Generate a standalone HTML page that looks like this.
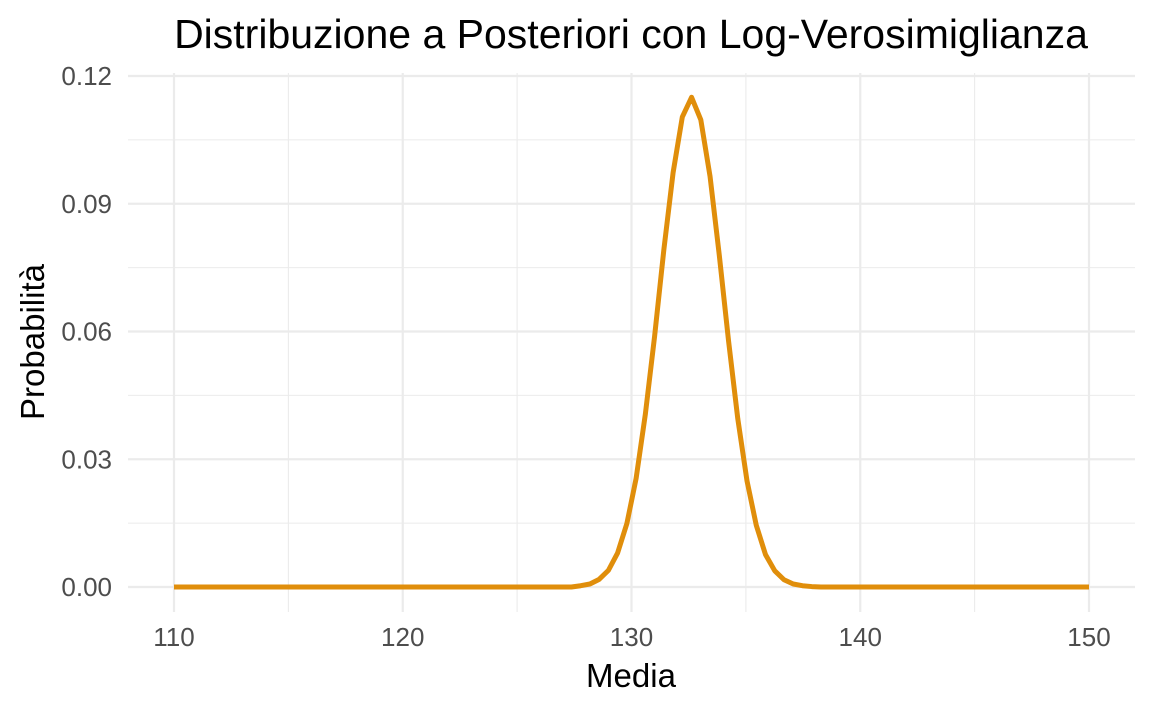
<!DOCTYPE html>
<html><head><meta charset="utf-8"><style>
body{margin:0;background:#fff;}
svg text{font-family:"Liberation Sans",Arial,sans-serif;}
</style></head><body>
<svg id="chart" width="1152" height="711" xmlns="http://www.w3.org/2000/svg">
<text x="631" y="48" font-size="41" text-anchor="middle" fill="#000">Distribuzione a Posteriori con Log-Verosimiglianza</text>
<g id="grid"></g>
<g id="ylab"></g>
<g id="xlab"></g>
<path id="line" fill="none" stroke="#E08E0B" stroke-width="5" stroke-linejoin="round"/>
<text x="631" y="687" font-size="33" text-anchor="middle">Media</text>
<text transform="translate(44,342) rotate(-90)" font-size="33" text-anchor="middle">Probabilità</text>
</svg>
<script>
const xTicks=[110,120,130,140,150];
const yTicks=[0,0.03,0.06,0.09,0.12];
const yTickLabels=["0.00","0.03","0.06","0.09","0.12"];
const peakValues=[0.0003,0.0007,0.0018,0.0039,0.0080,0.0149,0.0255,0.0406,0.0589,0.0792,0.0973,0.1104,0.1150,0.1097,0.0964,0.0779,0.0578,0.0395,0.0249,0.0145,0.0076,0.0038,0.0017,0.0007,0.0003,0.0001];
const peakStart=44;
const nPoints=100;
const X=v=>174+(v-110)*(1089-174)/40;
const Y=v=>587-v*(587-76)/0.12;
const svg="http://www.w3.org/2000/svg";
const grid=document.getElementById('grid');
function ln(x1,y1,x2,y2,w){const l=document.createElementNS(svg,'line');


l.setAttribute('x1',x1);l.setAttribute('y1',y1);l.setAttribute('x2',x2);l.setAttribute('y2',y2);
l.setAttribute('stroke','#ebebeb');l.setAttribute('stroke-width',w);grid.appendChild(l);}
for(let i=0;i<yTicks.length;i++){ln(128,Y(yTicks[i]),1135,Y(yTicks[i]),2.2);
 if(i<yTicks.length-1)ln(128,Y((yTicks[i]+yTicks[i+1])/2),1135,Y((yTicks[i]+yTicks[i+1])/2),1.1);
 const t=document.createElementNS(svg,'text');
 
 
 t.setAttribute('x',112);t.setAttribute('y',Y(yTicks[i])+9);t.setAttribute('font-size','26');t.setAttribute('text-anchor','end');t.setAttribute('fill','#4d4d4d');
 t.textContent=yTickLabels[i];document.getElementById('ylab').appendChild(t);}
for(let i=0;i<xTicks.length;i++){ln(X(xTicks[i]),73,X(xTicks[i]),612,2.2);
 if(i<xTicks.length-1)ln(X((xTicks[i]+xTicks[i+1])/2),73,X((xTicks[i]+xTicks[i+1])/2),612,1.1);
 const t=document.createElementNS(svg,'text');
 
 
 t.setAttribute('x',X(xTicks[i]));t.setAttribute('y',646);t.setAttribute('font-size','26');t.setAttribute('text-anchor','middle');t.setAttribute('fill','#4d4d4d');
 t.textContent=xTicks[i];document.getElementById('xlab').appendChild(t);}
let d='';
for(let i=0;i<nPoints;i++){const xv=110+i*40/(nPoints-1);
 const k=i-peakStart;const yv=(k>=0&&k<peakValues.length)?peakValues[k]:0;
 d+=(i?'L':'M')+X(xv).toFixed(2)+','+Y(yv).toFixed(2);}
document.getElementById('line').setAttribute('d',d);
</script>
</body></html>
